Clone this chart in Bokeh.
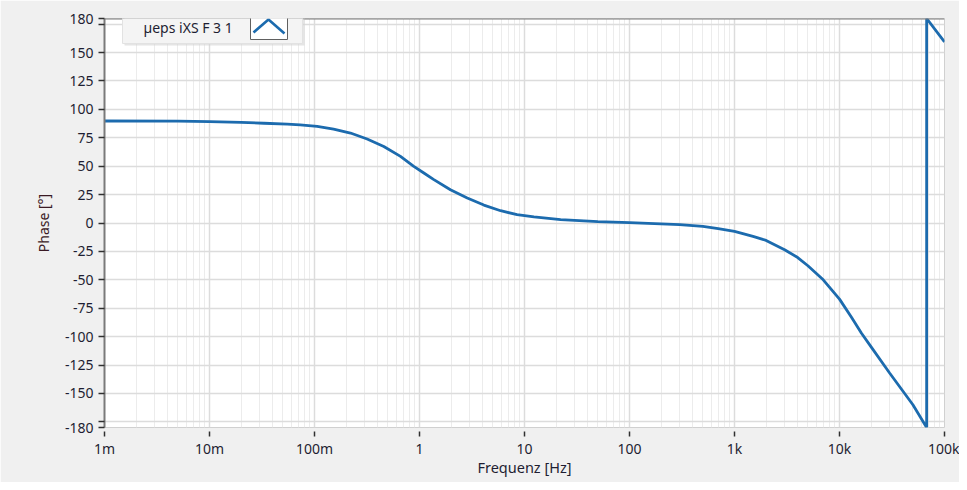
from bokeh.plotting import figure
from bokeh.models import (FixedTicker, Span, Label, BoxAnnotation, PolyAnnotation, Range1d)
from bokeh.embed import file_html
from bokeh.resources import INLINE

# ---- data ----
freq_hz = [0.001, 0.005, 0.01, 0.02, 0.033, 0.055, 0.073, 0.106, 0.152, 0.22, 0.317,
           0.457, 0.659, 0.882, 1.1, 1.37, 1.97, 2.85, 4.1, 5.92, 8.5, 12.3, 22.1,
           50, 100, 300, 500, 700,
           1000, 1500, 2000, 3000, 4000, 5000, 7000, 10000, 13000, 16200, 20000,
           30000, 50000, 67600, 67600, 100000]
phase_deg = [89.8, 89.6, 89.2, 88.6, 87.8, 87.0, 86.3, 85.1, 82.7, 79.2, 73.9,
             67.4, 58.6, 49.8, 44.0, 38.2, 29.3, 22.0, 15.8, 10.8, 7.3, 5.3, 2.9,
             1.2, 0.3, -1.5, -3.0, -5.0,
             -7.4, -11.8, -15.3, -23.5, -30.4, -37.6, -50.0, -67.0, -83.0, -97.0, -109.0,
             -132.0, -160.0, -180.0, 180.0, 159.5]
series_name = "µeps iXS F 3 1"

x_ticks = [1e-3, 1e-2, 1e-1, 1, 10, 100, 1e3, 1e4, 1e5]
x_tick_labels = ["1m", "10m", "100m", "1", "10", "100", "1k", "10k", "100k"]
y_ticks = [-180, -175, -150, -125, -100, -75, -50, -25, 0, 25, 50, 75, 100, 125, 150, 175, 180]
y_tick_labels = ["-180", "", "-150", "-125", "-100", "-75", "-50", "-25", "0",
                 "25", "50", "75", "100", "125", "150", "", "180"]
x_minor = [m * d for d in x_ticks[:-1] for m in range(2, 10)]

FONT = "Noto Sans"
TXT = "#1e1e32"
LINE = "#1c6bae"

W, H = 959, 482
BL, BR, BT, BB = 104, 15, 18, 55
FW, FH = W - BL - BR, H - BT - BB

p = figure(width=W, height=H, x_axis_type="log",
           x_range=Range1d(1e-3, 1e5), y_range=Range1d(-180, 180),
           output_backend="svg", toolbar_location=None,
           min_border_left=BL, min_border_right=BR, min_border_top=BT, min_border_bottom=BB)
p.border_fill_color = "#f0f0f0"
p.background_fill_color = "white"
p.outline_line_color = "#d0d0d0"

# x axis
xa = p.xaxis[0]
xa.ticker = FixedTicker(ticks=x_ticks)
xa.major_label_overrides = {t: l for t, l in zip(x_ticks, x_tick_labels)}
xa.axis_line_color = None
xa.major_tick_line_color = "#303030"
xa.major_tick_line_width = 1.5
xa.major_tick_in = -4
xa.major_tick_out = 9
xa.minor_tick_line_color = None
xa.major_label_standoff = 2
xa.major_label_text_font = FONT
xa.major_label_text_font_size = "14px"
xa.major_label_text_color = TXT
xa.axis_label = "Frequenz [Hz]"
xa.axis_label_text_font = FONT
xa.axis_label_text_font_size = "14.5px"
xa.axis_label_text_font_style = "normal"
xa.axis_label_text_color = TXT
xa.axis_label_standoff = -4

# y axis
ya = p.yaxis[0]
ya.ticker = FixedTicker(ticks=y_ticks)
ya.major_label_overrides = {t: l for t, l in zip(y_ticks, y_tick_labels)}
ya.axis_line_color = "#7a7a7a"
ya.axis_line_width = 2
ya.major_tick_line_color = "#303030"
ya.major_tick_line_width = 1.5
ya.major_tick_in = 0
ya.major_tick_out = 6
ya.minor_tick_line_color = None
ya.major_label_standoff = 5
ya.major_label_text_font = FONT
ya.major_label_text_font_size = "14px"
ya.major_label_text_color = TXT
ya.axis_label = "Phase [°]"
ya.axis_label_text_font = FONT
ya.axis_label_text_font_size = "14px"
ya.axis_label_text_font_style = "normal"
ya.axis_label_text_color = "#3a1a24"
ya.axis_label_standoff = 9

# grids
p.xgrid.ticker = FixedTicker(ticks=x_ticks, minor_ticks=x_minor)
p.xgrid.grid_line_color = "#dcdcdc"
p.xgrid.grid_line_width = 1.5
p.xgrid.minor_grid_line_color = "#ececec"
p.xgrid.minor_grid_line_width = 1
p.ygrid.grid_line_color = "#dcdcdc"
p.ygrid.grid_line_width = 1.5

p.add_layout(Span(location=180, dimension="width", line_color="#7a7a7a", line_width=2))

p.line(freq_hz, phase_deg, line_color=LINE, line_width=2.8)

# legend (frame-relative screen units, y from frame bottom)
def yb(top_px):
    return FH - top_px

p.add_layout(BoxAnnotation(left=20, right=200, top=yb(-8), bottom=yb(27),
                           left_units="screen", right_units="screen",
                           top_units="screen", bottom_units="screen",
                           fill_color="#d4d4d4", fill_alpha=0.6, line_color=None))
p.add_layout(BoxAnnotation(left=18, right=198, top=yb(-9), bottom=yb(25),
                           left_units="screen", right_units="screen",
                           top_units="screen", bottom_units="screen",
                           fill_color="#f4f4f4", fill_alpha=1,
                           line_color="#e2e2e2", line_alpha=1))
p.add_layout(Label(x=39, y=yb(9), x_units="screen", y_units="screen", text=series_name,
                   text_font=FONT, text_font_size="14px", text_color=TXT,
                   text_baseline="middle"))
p.add_layout(BoxAnnotation(left=146, right=183, top=yb(-4), bottom=yb(21),
                           left_units="screen", right_units="screen",
                           top_units="screen", bottom_units="screen",
                           fill_color="white", fill_alpha=1,
                           line_color="#606060", line_alpha=1, line_width=1))
p.add_layout(PolyAnnotation(xs=[149, 164, 180, 164], ys=[yb(14), yb(1), yb(15), yb(1)],
                            xs_units="screen", ys_units="screen",
                            fill_alpha=0, line_color=LINE, line_alpha=1, line_width=2.6))

open("out.html", "w").write(file_html(p, INLINE))
